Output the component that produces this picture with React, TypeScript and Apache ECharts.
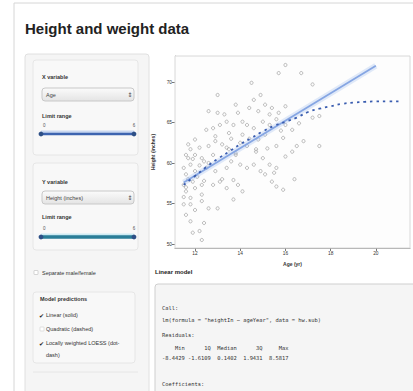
import React, { useEffect, useRef } from "react";
import * as echarts from "echarts";

// ---- data ----
const pointAge = [
  16.0, 15.7, 16.7, 17.2, 14.5, 14.6, 14.9, 13.0, 12.6, 13.0, 13.8, 13.9, 14.4, 14.8, 15.1, 15.4, 15.7, 16.0,
  12.5, 12.8, 13.1, 13.4, 13.5, 14.1, 14.3, 14.6, 15.0, 15.3, 15.6, 16.0, 16.3, 16.6, 17.2, 17.5,
  12.0, 11.8, 11.7, 12.0, 12.2, 12.3, 12.6, 12.8, 12.9, 13.2, 13.5, 13.8, 14.0, 14.3, 14.7, 14.8, 15.1, 15.6,
  15.9, 16.3, 16.5, 16.8, 17.5, 11.5, 11.6, 11.8, 12.0, 12.4, 12.5, 12.9, 13.4, 13.6, 14.0, 14.3, 14.6, 15.0,
  15.3, 15.6, 11.5, 11.6, 11.8, 11.9, 12.0, 12.3, 12.3, 12.8, 13.1, 13.4, 13.7, 13.9, 14.1, 15.1, 15.4, 15.6,
  15.9, 15.5, 11.5, 11.8, 12.0, 12.3, 12.6, 13.0, 13.7, 11.6, 11.8, 12.4, 11.9, 12.2, 12.3, 13.8, 14.7, 13.7,
  14.1, 11.6, 11.7, 11.9, 12.1, 11.6, 12.2, 11.5, 12.4, 11.7, 12.6, 13.2, 13.4, 12.9, 13.3, 13.6, 14.9, 15.2,
  14.4, 15.8, 16.0, 16.4, 15.3,
];
const pointHeight = [
  72.1, 71.1, 71.1, 69.7, 69.9, 67.8, 68.4, 68.4, 66.4, 66.2, 67.2, 66.2, 66.8, 66.4, 67.2, 66.8, 66.2, 67.0,
  64.1, 64.3, 64.7, 65.1, 63.7, 65.1, 64.7, 64.3, 65.1, 64.7, 65.4, 64.7, 64.1, 64.9, 65.6, 65.8,
  62.9, 61.7, 60.6, 61.0, 61.9, 60.6, 62.1, 61.0, 62.7, 62.3, 61.7, 61.0, 62.5, 62.1, 61.4, 62.9, 63.5, 62.1,
  63.1, 61.4, 62.1, 62.7, 62.1, 59.4, 58.6, 59.8, 59.0, 60.2, 59.4, 59.0, 59.4, 60.2, 59.8, 59.4, 59.8, 60.6,
  59.8, 59.4, 57.3, 56.5, 55.7, 57.7, 56.9, 56.1, 57.3, 57.3, 57.7, 56.9, 57.9, 57.3, 56.5, 58.6, 57.7, 57.1,
  56.7, 58.8, 54.9, 54.9, 54.2, 55.3, 54.4, 54.4, 55.5, 53.6, 52.8, 52.6, 51.4, 51.6, 50.5, 61.2, 61.7, 64.7,
  63.5, 61.0, 58.0, 60.5, 58.3, 57.0, 59.7, 55.8, 57.8, 62.3, 60.0, 58.0, 61.9, 63.3, 66.0, 63.0, 59.0, 61.8,
  63.0, 64.0, 60.8, 58.0, 66.0,
];
const linearAge = [11.5, 20.0];
const linearHeight = [57.6, 72.0];
const loessAge = [11.5, 12, 12.5, 13, 13.5, 14, 14.5, 15, 15.5, 16, 16.5, 17, 17.5, 18, 18.5, 19, 19.5, 20, 20.5, 21];
const loessHeight = [57.3, 58.4, 59.5, 60.5, 61.4, 62.3, 63.1, 63.9, 64.6, 65.1, 65.6, 66.3, 66.7, 67.0, 67.3, 67.45, 67.55, 67.6, 67.6, 67.6];
const xTicks = [12, 14, 16, 18, 20];
const yTicks = [50, 55, 60, 65, 70];

const codeLines = [
  { t: "Call:", y: 308 },
  { t: 'lm(formula = "heightIn ~ ageYear", data = hw.sub)', y: 320 },
  { t: "Residuals:", y: 335 },
  { t: "    Min      1Q  Median      3Q     Max ", y: 348 },
  { t: "-8.4429 -1.6109  0.1402  1.9431  8.5817 ", y: 358 },
  { t: "Coefficients:", y: 384 },
];

const SANS = "'Liberation Sans', Arial, sans-serif";
const MONO = "'DejaVu Sans Mono', 'Liberation Mono', monospace";

function txt(text: string, x: number, y: number, size: number, opts: any = {}) {
  return {
    type: "text",
    x,
    y,
    silent: true,
    style: {
      text,
      fontSize: size,
      fontFamily: opts.font || SANS,
      fontWeight: opts.bold ? "bold" : "normal",
      fill: opts.color || "#333",
      align: opts.align || "left",
      verticalAlign: "middle",
    },
  };
}

function rect(x: number, y: number, w: number, h: number, fill: string, stroke: string, r = 3, lw = 1) {
  return {
    type: "rect",
    silent: true,
    shape: { x, y, width: w, height: h, r },
    style: { fill, stroke, lineWidth: lw },
  };
}

function selectBox(y: number, label: string) {
  return [
    {
      type: "rect",
      silent: true,
      shape: { x: 42, y, width: 92, height: 13, r: 3 },
      style: {
        fill: new echarts.graphic.LinearGradient(0, 0, 0, 1, [
          { offset: 0, color: "#fbfbfb" },
          { offset: 1, color: "#e4e4e4" },
        ]),
        stroke: "#c8c8c8",
        lineWidth: 1,
      },
    },
    txt(label, 46, y + 6.5, 5.5, { color: "#444" }),
    txt("⇕", 130, y + 6.5, 6, { font: "'DejaVu Sans', sans-serif", color: "#444", align: "center" }),
  ];
}

function slider(y: number, color: string, glow: string, w: number) {
  return [
    txt("0", 43, y - 9, 4.5, { color: "#555" }),
    txt("6", 134, y - 9, 4.5, { color: "#555", align: "center" }),
    { type: "line", silent: true, shape: { x1: 41, y1: y - 2, x2: 134, y2: y - 2 }, style: { stroke: glow, lineWidth: 3 } },
    { type: "line", silent: true, shape: { x1: 41, y1: y, x2: 134, y2: y }, style: { stroke: color, lineWidth: w, lineCap: "round" } },
    { type: "circle", silent: true, shape: { cx: 41, cy: y, r: 2.4 }, style: { fill: "#2d4f86" } },
    { type: "circle", silent: true, shape: { cx: 134, cy: y, r: 2.4 }, style: { fill: "#2d4f86" } },
  ];
}

export default function App() {
  const ref = useRef<HTMLDivElement>(null);

  useEffect(() => {
    if (!ref.current) return;
    const chart = echarts.init(ref.current, undefined, { renderer: "svg" });

    const points = pointAge.map((a, i) => [a, pointHeight[i]]);
    const linear = linearAge.map((a, i) => [a, linearHeight[i]]);
    const loess = loessAge.map((a, i) => [a, loessHeight[i]]);

    const graphics: any[] = [
      rect(14, 3, 420, 420, "#ffffff", "#d6d6d6", 0, 1),
      txt("Height and weight data", 25, 28, 15, { bold: true, color: "#222" }),
      rect(25, 54, 124, 345, "#f5f5f5", "#e0e0e0", 3),
      rect(33, 60, 105, 95, "#f8f8f8", "#e6e6e6", 3),
      txt("X variable", 42, 77, 5.5, { bold: true }),
      ...selectBox(88, "Age"),
      txt("Limit range", 42, 116, 5.5, { bold: true }),
      ...slider(134, "#3d64b0", "#c9d7f0", 2.5),
      rect(33, 163, 105, 87, "#f8f8f8", "#e6e6e6", 3),
      txt("Y variable", 42, 182, 5.5, { bold: true }),
      ...selectBox(191, "Height (inches)"),
      txt("Limit range", 42, 217, 5.5, { bold: true }),
      ...slider(237, "#2a7e98", "#cdebf3", 3.5),
      rect(34, 270.5, 4, 4, "#ffffff", "#bbbbbb", 0.5, 0.6),
      txt("Separate male/female", 42, 273, 5.5),
      rect(33, 292, 102, 71, "#f8f8f8", "#e6e6e6", 3),
      txt("Model predictions", 40, 299, 5.5, { bold: true }),
      txt("✔", 39, 315, 6, { font: "'DejaVu Sans', sans-serif", color: "#222" }),
      txt("Linear (solid)", 46, 315, 5.5),
      rect(40, 327, 4, 4, "#ffffff", "#cccccc", 0.5, 0.6),
      txt("Quadratic (dashed)", 46, 329, 5.5),
      txt("✔", 39, 343, 6, { font: "'DejaVu Sans', sans-serif", color: "#222" }),
      txt("Locally weighted LOESS (dot-", 46, 343, 5.5),
      txt("dash)", 46, 355, 5.5),
      { type: "line", silent: true, shape: { x1: 33, y1: 372, x2: 138, y2: 372 }, style: { stroke: "#e6e6e6", lineWidth: 1 } },
      txt("Linear model", 155, 272, 6, { bold: true, color: "#222" }),
      rect(155, 284, 262, 130, "#f5f5f5", "#cfcfcf", 3),
      ...codeLines.map((l) => txt(l.t, 162, l.y, 5.4, { font: MONO, color: "#333" })),
    ];

    chart.setOption({
      animation: false,
      backgroundColor: "#ffffff",
      graphic: { elements: graphics },
      grid: {
        left: 175,
        top: 56,
        width: 235,
        height: 192,
        show: true,
        backgroundColor: "#fdfdfd",
        borderColor: "#d8d8d8",
        borderWidth: 1,
        z: 3,
      },
      xAxis: {
        type: "value",
        min: 11.115,
        max: 21.51,
        name: "Age (yr)",
        nameLocation: "middle",
        nameGap: 13,
        nameTextStyle: { fontSize: 5, fontWeight: "bold", color: "#333", fontFamily: SANS },
        axisLine: { show: true, lineStyle: { color: "#999", width: 1 } },
        axisTick: { show: true, length: 3, customValues: xTicks, lineStyle: { color: "#777" } },
        axisLabel: { customValues: xTicks, fontSize: 4.8, color: "#333", margin: 3, fontFamily: SANS },
        splitLine: { show: false },
      },
      yAxis: {
        type: "value",
        min: 49.51,
        max: 73.21,
        name: "Height (inches)",
        nameLocation: "middle",
        nameGap: 11,
        nameRotate: 90,
        nameTextStyle: { fontSize: 5, fontWeight: "bold", color: "#333", fontFamily: SANS },
        axisLine: { show: true, lineStyle: { color: "#999", width: 1 } },
        axisTick: { show: true, length: 3, customValues: yTicks, lineStyle: { color: "#777" } },
        axisLabel: { customValues: yTicks, fontSize: 4.8, color: "#333", margin: 3, fontFamily: SANS },
        splitLine: { show: false },
      },
      series: [
        {
          name: "Data",
          type: "scatter",
          data: points,
          symbol: "circle",
          symbolSize: 3.2,
          itemStyle: { color: "rgba(255,255,255,0)", borderColor: "#9a9a9a", borderWidth: 0.8, opacity: 0.85 },
          z: 4,
        },
        {
          name: "Linear glow",
          type: "line",
          data: linear,
          showSymbol: false,
          lineStyle: { color: "rgba(160,188,238,0.3)", width: 6 },
          z: 5,
        },
        {
          name: "Linear",
          type: "line",
          data: linear,
          showSymbol: false,
          lineStyle: { color: "#86a6e3", width: 1.8 },
          z: 6,
        },
        {
          name: "LOESS",
          type: "line",
          data: loess,
          showSymbol: false,
          smooth: true,
          lineStyle: { color: "#3a5db0", width: 1.8, type: [2.5, 4] },
          z: 7,
        },
      ],
    });

    return () => chart.dispose();
  }, []);

  return (
    <div
      ref={ref}
      style={{ position: "fixed", left: 0, top: 0, width: 413, height: 391 }}
    />
  );
}
